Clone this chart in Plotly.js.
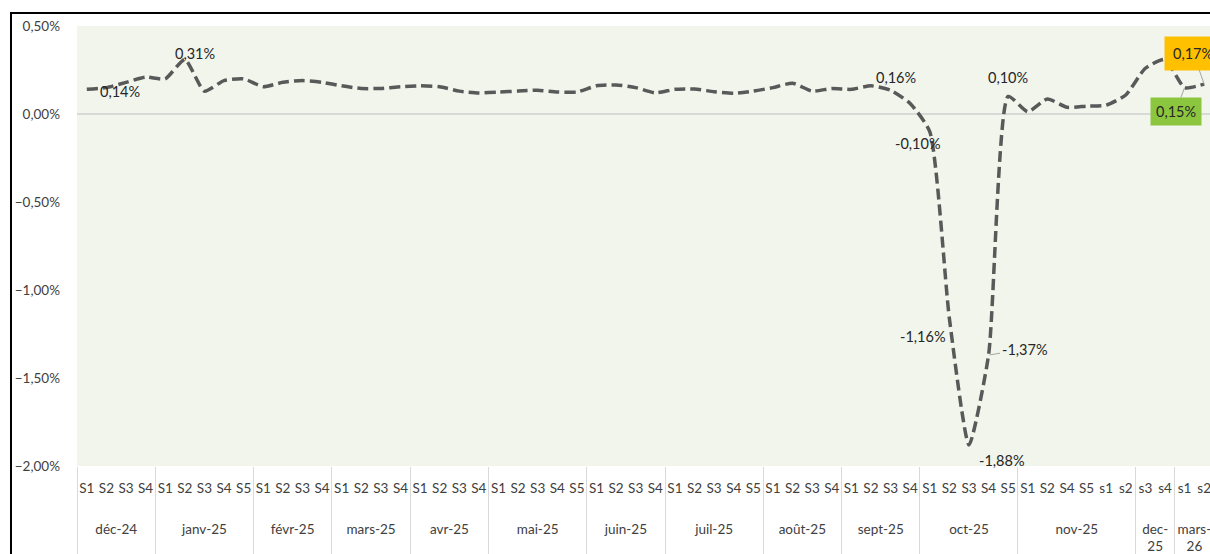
<!DOCTYPE html>
<html>
<head>
<meta charset="utf-8">
<script src="https://cdn.plot.ly/plotly-3.0.1.min.js"></script>
<style>
  html, body { margin: 0; padding: 0; width: 1210px; height: 554px; overflow: hidden; background: #fff; }
  #frame { position: absolute; left: 10px; top: 12px; border: 2px solid #000; background: #fff; }
  #chart { width: 1220px; height: 580px; }
</style>
</head>
<body>
<div id="frame"><div id="chart"></div></div>
<script>
// Month groups and the weeks inside each one
const months = ["déc-24", "janv-25", "févr-25", "mars-25", "avr-25", "mai-25", "juin-25",
                "juil-25", "août-25", "sept-25", "oct-25", "nov-25", "dec-<br>25", "mars-<br>26"];
const weeksPerMonth = [
  ["S1", "S2", "S3", "S4"],
  ["S1", "S2", "S3", "S4", "S5"],
  ["S1", "S2", "S3", "S4"],
  ["S1", "S2", "S3", "S4"],
  ["S1", "S2", "S3", "S4"],
  ["S1", "S2", "S3", "S4", "S5"],
  ["S1", "S2", "S3", "S4"],
  ["S1", "S2", "S3", "S4", "S5"],
  ["S1", "S2", "S3", "S4"],
  ["S1", "S2", "S3", "S4"],
  ["S1", "S2", "S3", "S4", "S5"],
  ["S1", "S2", "S4", "S5", "s1", "s2"],
  ["s3", "s4"],
  ["s1", "s2"]
];

// Weekly variation, in percent
const values = [
  0.14, 0.15, 0.18, 0.21,
  0.20, 0.31, 0.13, 0.19, 0.20,
  0.155, 0.18, 0.19, 0.18,
  0.16, 0.145, 0.145, 0.155,
  0.16, 0.155, 0.13, 0.12,
  0.125, 0.13, 0.135, 0.125, 0.125,
  0.16, 0.165, 0.15, 0.12,
  0.14, 0.142, 0.127, 0.118, 0.13,
  0.15, 0.175, 0.13, 0.145,
  0.14, 0.16, 0.135, 0.06,
  -0.10, -1.16, -1.88, -1.37, 0.10,
  0.013, 0.085, 0.038, 0.045, 0.05, 0.108,
  0.26, 0.31,
  0.15, 0.17
];

// Points that carry a value label
const labelled = [0, 5, 40, 43, 44, 45, 46, 47, 56, 57];

// Two-level category coordinates; the week row gets blank extra lines
// so the month row sits lower, as in a spreadsheet axis table
const monthRow = [], weekRow = [];
months.forEach((m, k) => weeksPerMonth[k].forEach(w => {
  monthRow.push(m);
  weekRow.push(w + '<br>\u00a0<br>\u00a0');
}));

const fmt = v => v.toFixed(2).replace('.', ',') + '%';

// Label placement for each labelled point
const labelStyle = {
  0:  {xanchor: 'left',   xshift: 11,  yshift: -2},
  5:  {xanchor: 'left',   xshift: -12, yshift: 6},
  40: {xanchor: 'left',   xshift: 3,   yshift: 8},
  43: {xanchor: 'left',   xshift: -37, yshift: -12},
  44: {xanchor: 'right',  xshift: -1,  yshift: -18},
  45: {xanchor: 'left',   xshift: 8,   yshift: -16},
  47: {xanchor: 'center', xshift: 0,   yshift: 19}
};

const fontFamily = 'Lato, "Open Sans", sans-serif';
const textFont = {family: fontFamily, size: 14.5, color: '#262626'};
const annotations = labelled.map(i => {
  const base = {x: i, y: values[i], xref: 'x', yref: 'y', text: fmt(values[i]), font: textFont};
  if (labelStyle[i]) {
    return Object.assign(base, {showarrow: false, yanchor: 'middle'}, labelStyle[i]);
  }
  if (i === 46) {
    return Object.assign(base, {showarrow: true, arrowhead: 0, arrowwidth: 1, arrowcolor: '#a6a6a6',
      ax: 36, ay: -6, standoff: 1});
  }
  if (i === 56) {
    return Object.assign(base, {showarrow: true, arrowhead: 0, arrowwidth: 1, arrowcolor: '#a6a6a6',
      ax: -9, ay: 24, bgcolor: '#8cc63f', borderpad: 5});
  }
  return Object.assign(base, {showarrow: true, arrowhead: 0, arrowwidth: 1, arrowcolor: '#a6a6a6',
    ax: -11, ay: -31, bgcolor: '#ffc000', borderpad: 8});
});

const trace = {
  type: 'scatter',
  mode: 'lines',
  x: [monthRow, weekRow],
  y: values,
  line: {shape: 'spline', smoothing: 0.55, color: '#595959', width: 3.5, dash: '11px,5px'},
  hoverinfo: 'skip'
};

const layout = {
  width: 1220,
  height: 580,
  margin: {l: 65, r: 18, t: 12, b: 128},
  paper_bgcolor: '#ffffff',
  plot_bgcolor: '#f1f5ec',
  separators: ', ',
  showlegend: false,
  font: {family: fontFamily, size: 13, color: '#404040'},
  xaxis: {
    type: 'multicategory',
    range: [-0.5, values.length - 0.5],
    showgrid: false,
    showline: false,
    zeroline: false,
    ticks: '',
    ticklabelstandoff: 12,
    tickangle: 0,
    showdividers: true,
    dividercolor: '#d9d9d9',
    dividerwidth: 1,
    tickfont: {family: fontFamily, size: 13.5, color: '#404040'}
  },
  yaxis: {
    range: [-2, 0.5],
    tick0: 0,
    dtick: 0.5,
    tickformat: '.2f',
    ticksuffix: '%',
    showgrid: false,
    zeroline: true,
    zerolinecolor: '#d9d9d9',
    zerolinewidth: 1.5,
    showline: false,
    ticks: '',
    ticklabelstandoff: 16,
    tickfont: {family: fontFamily, size: 13.5, color: '#404040'}
  },
  annotations: annotations
};

Plotly.newPlot('chart', [trace], layout, {displayModeBar: false, staticPlot: true});
</script>
</body>
</html>
